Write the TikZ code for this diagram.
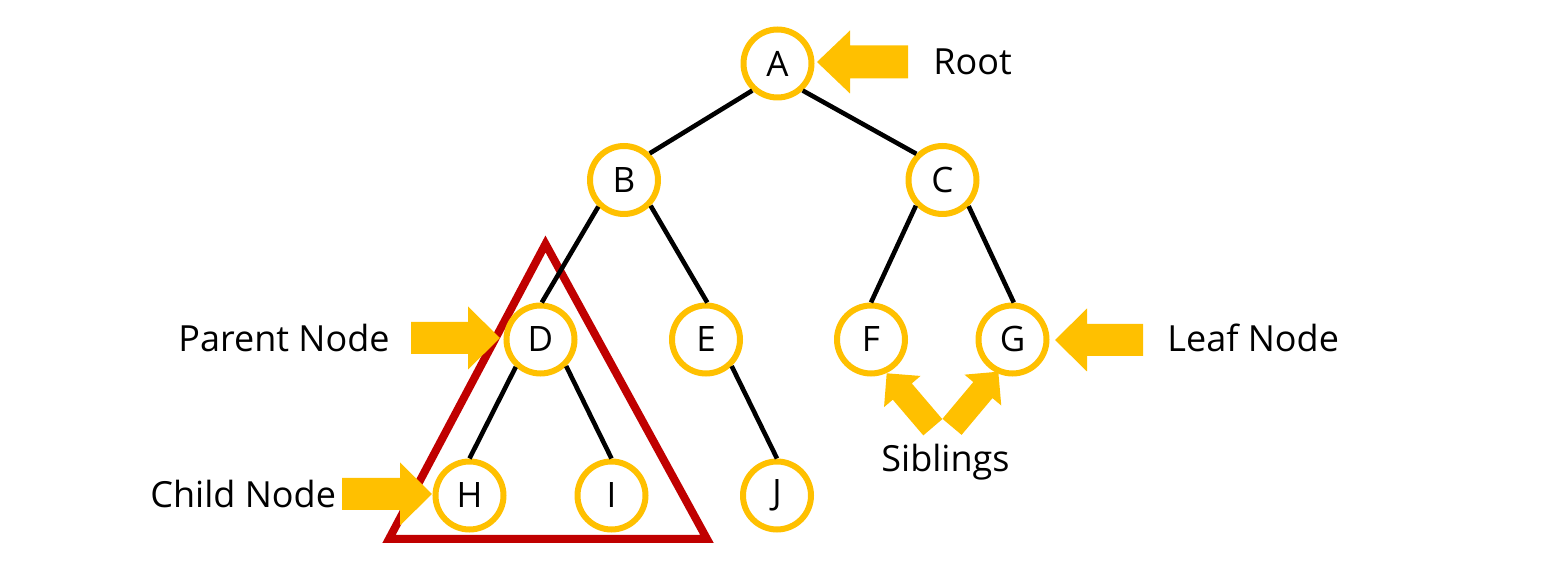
\documentclass[tikz,border=0pt]{standalone}
\usepackage{fontspec}
\setmainfont{Open Sans}
\definecolor{gold}{HTML}{FFC000}
\definecolor{darkred}{HTML}{C00000}
\tikzset{
  tnode/.style={circle, draw=gold, line width=3pt, fill=white, minimum size=34pt,
    inner sep=0pt, font=\fontsize{17.5}{20}\selectfont},
  edge/.style={line width=2.3pt, black},
  lbl/.style={anchor=base west, inner sep=0pt, font=\fontsize{18}{22}\selectfont},
  subtree/.style={draw=darkred, line width=4pt, line join=miter, miter limit=10},
  pics/blockarrow/.style n args={4}{code={
    \fill[gold] (0,0) -- (-#2,-#4/2) -- (-#2,-#3/2) -- (-#1,-#3/2) -- (-#1,#3/2)
      -- (-#2,#3/2) -- (-#2,#4/2) -- cycle;}}
}
\begin{document}
\begin{tikzpicture}[x=0.5pt,y=-0.5pt]
\useasboundingbox (0,0) rectangle (1555,571);
% subtree triangle
\draw[subtree] (545.5,244) -- (707,539) -- (389,539) -- cycle;
% nodes
\node[tnode] (A) at (777.5,63.5) {A};
\node[tnode] (B) at (624,180) {B};
\node[tnode] (C) at (942.5,180) {C};
\node[tnode] (D) at (540.5,339.5) {D};
\node[tnode] (E) at (706,339.5) {E};
\node[tnode] (F) at (871,339.5) {F};
\node[tnode] (G) at (1012.5,339.5) {G};
\node[tnode] (H) at (469.5,495.5) {H};
\node[tnode] (I) at (611.5,495.5) {I};
\node[tnode] (J) at (777,495.5) {J};
% edges
\draw[edge] (A.227) -- (B.46);
\draw[edge] (A.313) -- (C.135);
\draw[edge] (B.226) -- (D.88);
\draw[edge] (B.316) -- (E.88);
\draw[edge] (C.224) -- (F.90);
\draw[edge] (C.315) -- (G.88);
\draw[edge] (D.228) -- (H.90);
\draw[edge] (D.314) -- (I.90);
\draw[edge] (E.314) -- (J.90);
% pointer arrows
\coordinate (rootTip) at (817,62);
\coordinate (parentTip) at (500,338);
\coordinate (childTip) at (432,494);
\coordinate (leafTip) at (1055,340);
\coordinate (sibLTip) at (886.7,373.3);
\coordinate (sibRTip) at (998.3,371.7);
\pic[rotate=180] at (rootTip) {blockarrow={91}{33}{33}{63}};
\pic at (parentTip) {blockarrow={89}{32}{32}{63}};
\pic at (childTip) {blockarrow={90}{32}{32}{63}};
\pic[rotate=180] at (leafTip) {blockarrow={88}{32}{32}{63}};
\pic[rotate=130.5] at (sibLTip) {blockarrow={71}{24}{25}{48}};
\pic[rotate=50] at (sibRTip) {blockarrow={72}{24}{25}{48}};
% labels
\node[lbl] (root) at (933,75) {Root};
\node[lbl] (parent) at (178,352) {Parent Node};
\node[lbl] (leaf) at (1167,352) {Leaf Node};
\node[lbl] (child) at (150,508) {Child Node};
\node[lbl] (sib) at (881,472) {Siblings};
\end{tikzpicture}
\end{document}
